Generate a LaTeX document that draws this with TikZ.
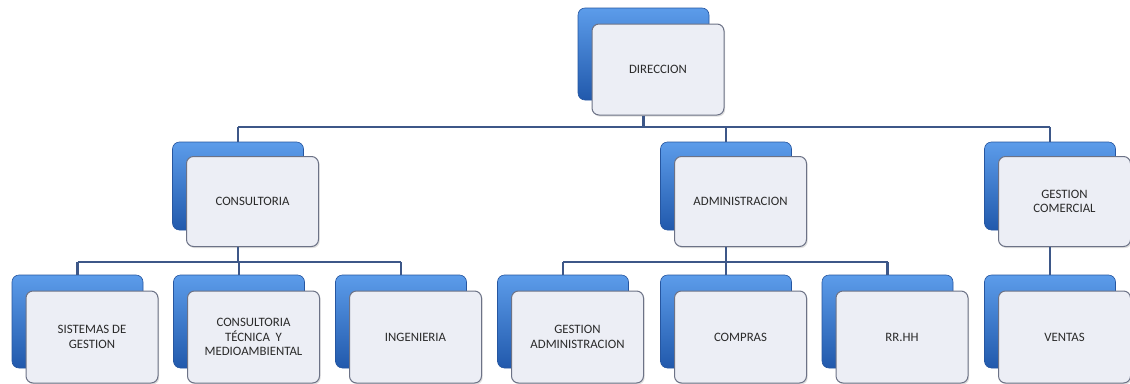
\documentclass[tikz,border=0pt]{standalone}
\usepackage{fontspec}
\setmainfont{Carlito}
\usetikzlibrary{shadows}
\definecolor{bluetop}{HTML}{5C9CEA}
\definecolor{bluebot}{HTML}{2159AC}
\definecolor{blueedge}{HTML}{2656A0}
\definecolor{frontfill}{HTML}{ECEEF5}
\definecolor{frontedge}{HTML}{6C7286}
\definecolor{connc}{HTML}{3D5788}
\definecolor{txt}{HTML}{2A2A2A}
\tikzset{
  backbox/.style={rounded corners=7pt, top color=bluetop, bottom color=bluebot, draw=blueedge, line width=0.6pt, minimum width=131pt, inner sep=0pt},
  frontbox/.style={rounded corners=7pt, fill=frontfill, draw=frontedge, line width=1pt, minimum width=132pt, inner sep=2pt, align=center, text=txt, font=\fontsize{12.8}{14.5}\selectfont, drop shadow={shadow xshift=1.2pt, shadow yshift=-1.6pt, opacity=0.25}},
  conn/.style={draw=connc, line width=2.2pt}
}
% #1 name, #2 back centre x, #3 back centre y, #4 back height, #5 front height, #6 text
\newcommand\orgunit[6]{%
  \node[backbox, minimum height=#4pt] (#1B) at (#2,#3) {};
  \node[frontbox, minimum height=#5pt] (#1) at (#2+14.5,#3+15.5) {#6};
}
\begin{document}
\begin{tikzpicture}[x=1pt,y=-1pt]
\useasboundingbox (0,0) rectangle (1130,383);
\fill[white] (0,0) rectangle (1130,383);
% level 1
\orgunit{dir}{643.5}{54}{92}{91}{DIRECCION}
% level 2
\orgunit{con}{238}{186}{88}{90}{CONSULTORIA}
\orgunit{adm}{726}{186}{88}{90}{ADMINISTRACION}
\orgunit{gc}{1050}{186}{88}{90}{GESTION\\COMERCIAL}
% level 3
\orgunit{sis}{77.5}{321.5}{93}{92}{SISTEMAS DE\\GESTION}
\orgunit{ctm}{239}{321.5}{93}{92}{CONSULTORIA\\TÉCNICA\ \ Y\\MEDIOAMBIENTAL}
\orgunit{ing}{401}{321.5}{93}{92}{INGENIERIA}
\orgunit{gad}{563}{321.5}{93}{92}{GESTION\\ADMINISTRACION}
\orgunit{com}{726}{321.5}{93}{92}{COMPRAS}
\orgunit{rrh}{887.5}{321.5}{93}{92}{RR.HH}
\orgunit{ven}{1050}{321.5}{93}{92}{VENTAS}
% buses
\coordinate (bus1) at (0,127);
\coordinate (bus2) at (0,262);
% connectors level 1 -> 2
\draw[conn] (dir.south -| dirB.center) -- (bus1 -| dirB.center);
\draw[conn] (bus1 -| conB.center) -- (bus1 -| gcB.center);
\draw[conn] (bus1 -| conB.center) -- (conB.north);
\draw[conn] (bus1 -| admB.center) -- (admB.north);
\draw[conn] (bus1 -| gcB.center) -- (gcB.north);
% consultoria
\draw[conn] (con.south -| conB.center) -- (bus2 -| conB.center);
\draw[conn] (bus2 -| sisB.center) -- (bus2 -| ingB.center);
\draw[conn] (bus2 -| sisB.center) -- (sisB.north);
\draw[conn] (bus2 -| ctmB.center) -- (ctmB.north);
\draw[conn] (bus2 -| ingB.center) -- (ingB.north);
% administracion
\draw[conn] (adm.south -| admB.center) -- (bus2 -| admB.center);
\draw[conn] (bus2 -| gadB.center) -- (bus2 -| rrhB.center);
\draw[conn] (bus2 -| gadB.center) -- (gadB.north);
\draw[conn] (bus2 -| comB.center) -- (comB.north);
\draw[conn] (bus2 -| rrhB.center) -- (rrhB.north);
% gestion comercial
\draw[conn] (gc.south -| gcB.center) -- (venB.north);
\end{tikzpicture}
\end{document}
